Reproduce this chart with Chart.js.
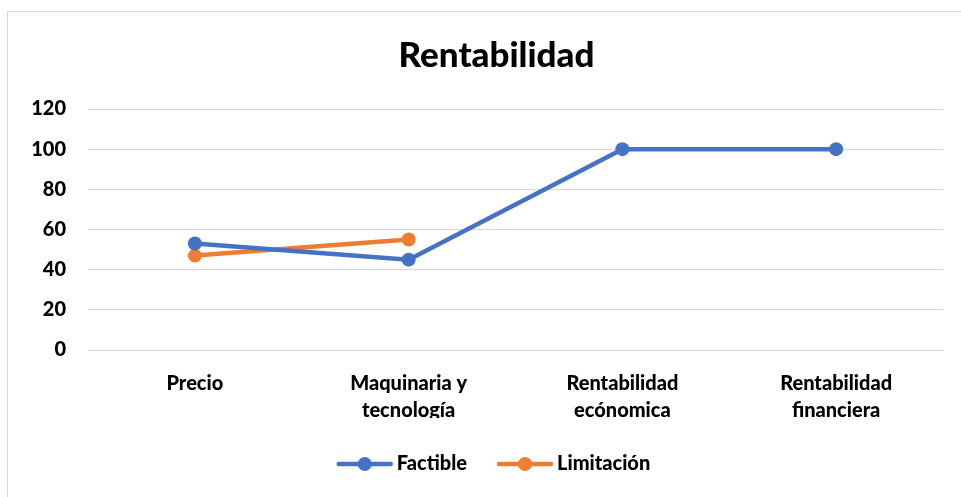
<!DOCTYPE html>
<html>
<head>
<meta charset="utf-8">
<script src="https://cdn.jsdelivr.net/npm/chart.js@4"></script>
<style>
  html, body { margin: 0; padding: 0; background: #fff; }
  #wrap { width: 961px; height: 497px; position: relative; }
</style>
</head>
<body>
<div id="wrap"><canvas id="chart" width="961" height="497"></canvas></div>
<script>
const categories = [['Precio'], ['Maquinaria y', 'tecnología'], ['Rentabilidad', 'ecónomica'], ['Rentabilidad', 'financiera']];
const factible = [53, 45, 100, 100];
const limitacion = [47, 55, null, null];
const yTicks = [0, 20, 40, 60, 80, 100, 120];

const BLUE = '#4472C4';
const ORANGE = '#ED7D31';
const FONT = 'Lato, "Open Sans", sans-serif';

// legend marker: line with a dot in the middle
const makeMarker = (color) => {
  const c = document.createElement('canvas');
  c.width = 58; c.height = 16;
  const ctx = c.getContext('2d');
  ctx.strokeStyle = color;
  ctx.lineWidth = 4.5;
  ctx.lineCap = 'round';
  ctx.beginPath();
  ctx.moveTo(3, 8); ctx.lineTo(55, 8);
  ctx.stroke();
  ctx.fillStyle = color;
  ctx.beginPath();
  ctx.arc(29, 8, 7, 0, Math.PI * 2);
  ctx.fill();
  return c;
};

const frame = {
  id: 'frame',
  beforeDraw(chart) {
    const ctx = chart.ctx;
    ctx.save();
    ctx.fillStyle = '#fff';
    ctx.fillRect(0, 0, chart.width, chart.height);
    ctx.strokeStyle = '#d9d9d9';
    ctx.lineWidth = 1;
    ctx.strokeRect(7.5, 11.5, 1000, 1000);
    ctx.restore();
  },
  // excel centres title and legend on the whole frame, not the plot
  afterLayout(chart) {
    chart.titleBlock.left = 50;
    chart.legend.left = 50;
  }
};

new Chart(document.querySelector('#chart').getContext('2d'), {
  type: 'line',
  data: {
    labels: categories,
    datasets: [{
      label: 'Factible',
      data: factible,
      borderColor: BLUE,
      backgroundColor: BLUE,
      borderWidth: 4.5,
      pointRadius: 7,
      pointHoverRadius: 7,
      pointBorderWidth: 0,
      tension: 0
    }, {
      label: 'Limitación',
      data: limitacion,
      borderColor: ORANGE,
      backgroundColor: ORANGE,
      borderWidth: 4.5,
      pointRadius: 7,
      pointHoverRadius: 7,
      pointBorderWidth: 0,
      tension: 0
    }]
  },
  options: {
    responsive: false,
    animation: false,
    layout: { padding: { top: 0, right: 18, bottom: 13, left: 0 } },
    plugins: {
      title: {
        display: true,
        text: 'Rentabilidad',
        color: '#000',
        font: { family: FONT, size: 35, weight: 900, lineHeight: 1.2 },
        padding: { top: 35, bottom: 32 }
      },
      legend: {
        position: 'bottom',
        labels: {
          usePointStyle: true,
          pointStyleWidth: 44,
          color: '#000',
          font: { family: FONT, size: 20, weight: 900 },
          padding: 36,
          generateLabels(chart) {
            return chart.data.datasets.map((ds, i) => ({
              text: ds.label,
              pointStyle: makeMarker(ds.borderColor),
              fillStyle: ds.borderColor,
              strokeStyle: ds.borderColor,
              lineWidth: 0,
              hidden: false,
              datasetIndex: i,
              fontColor: '#000'
            }));
          }
        }
      },
      tooltip: { enabled: false }
    },
    scales: {
      x: {
        offset: true,
        grid: { display: false, offset: true },
        border: { color: '#d9d9d9', width: 1 },
        ticks: {
          color: '#000',
          font: { family: FONT, size: 20, weight: 900, lineHeight: 1.35 },
          padding: 12,
          maxRotation: 0
        },
        afterFit(scale) { scale.height = 68; }
      },
      y: {
        min: 0,
        max: 120,
        afterBuildTicks(scale) { scale.ticks = yTicks.map(v => ({ value: v })); },
        grid: { color: '#d9d9d9', lineWidth: 1, drawTicks: false },
        border: { display: false },
        ticks: {
          color: '#000',
          font: { family: FONT, size: 20, weight: 900 },
          padding: 22
        },
        afterFit(scale) { scale.width = 88; }
      }
    }
  },
  plugins: [frame]
});
</script>
</body>
</html>
